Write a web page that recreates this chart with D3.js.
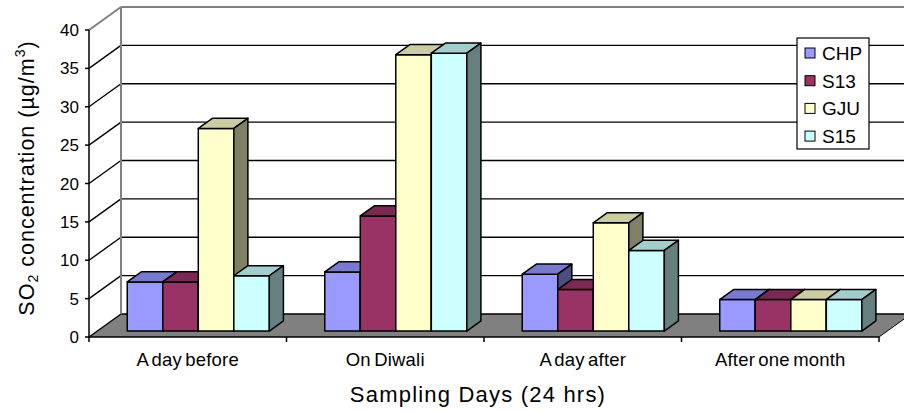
<!DOCTYPE html>
<html>
<head>
<meta charset="utf-8">
<script src="https://cdn.jsdelivr.net/npm/d3@7"></script>
<style>
  html, body { margin: 0; padding: 0; background: #fff; }
  svg { display: block; font-family: "Liberation Sans", Arial, sans-serif; }
</style>
</head>
<body>
<svg id="chart" width="904" height="412"></svg>
<script>
// SO2 concentration per sampling day and station
const categories = ["A day before", "On Diwali", "A day after", "After one month"];
const seriesNames = ["CHP", "S13", "GJU", "S15"];
const CHP = [6.4, 7.7, 7.4, 4.1];
const S13 = [6.4, 15.0, 5.4, 4.1];
const GJU = [26.4, 36.0, 14.1, 4.1];
const S15 = [7.2, 36.2, 10.5, 4.1];
const yTicks = [0, 5, 10, 15, 20, 25, 30, 35, 40];
const seriesColors = ["#9999FF", "#993366", "#FFFFCC", "#CCFFFF"];

const seriesValues = [CHP, S13, GJU, S15];

const svg = d3.select("#chart");

// front plane of the 3D box
const x = d3.scaleBand().domain(categories).range([89, 879]).paddingInner(0).paddingOuter(0);
const y = d3.scaleLinear().domain([0, 40]).range([337, 30]);
const xs = d3.scaleBand().domain(seriesNames).range([0, x.bandwidth()])
  .paddingInner(0).paddingOuter(0.78).align(0.54);

// oblique depth offset of the whole box
const DX = 32, DY = 23;
const barFront = 0.26;   // depth where the bar faces start
const barDepth = 0.44;   // bar thickness as a fraction of the box depth
const xL = x.range()[0], xR = x.range()[1];

const line = (x1, y1, x2, y2, stroke, w) =>
  svg.append("line").attr("x1", x1).attr("y1", y1).attr("x2", x2).attr("y2", y2)
    .attr("stroke", stroke).attr("stroke-width", w);

// floor
svg.append("polygon")
  .attr("points", [[xL, y(0)], [xR, y(0)], [xR + DX, y(0) - DY], [xL + DX, y(0) - DY]].map(p => p.join(",")).join(" "))
  .attr("fill", "#808080");

// walls: gridlines on the side wall (diagonals) and on the back wall
yTicks.forEach(v => {
  const edge = v === 40;
  const col = edge ? "#808080" : "#000";
  const w = edge ? 2 : 1.4;
  line(xL, y(v), xL + DX, y(v) - DY, col, w);
  line(xL + DX, y(v) - DY, 904, y(v) - DY, col, w);
});
// back edge of the side wall
line(xL + DX, y(40) - DY, xL + DX, y(0) - DY, "#808080", 2);
// right edge of the floor
line(xR, y(0), xR + DX, y(0) - DY, "#000", 1);

// axes
line(xL, y(40), xL, y(0), "#000", 1.5);
line(xL, y(0), xR, y(0), "#000", 1.5);
yTicks.forEach(v => {
  line(xL - 4, y(v), xL, y(v), "#000", 1.5);
  svg.append("text").attr("x", 79).attr("y", y(v) + 6)
    .attr("text-anchor", "end").attr("font-size", 17).attr("fill", "#000").text(v);
});
const boundaries = categories.map(c => x(c)).concat([xR]);
boundaries.forEach(b => line(b, y(0), b, y(0) + 5, "#000", 1.5));
categories.forEach(c => {
  svg.append("text").attr("x", x(c) + x.bandwidth() / 2).attr("y", 366)
    .attr("text-anchor", "middle").attr("font-size", 18.5).attr("word-spacing", -2)
    .attr("letter-spacing", 0.2).attr("fill", "#000").text(c);
});

// bars
const shade = (c, k) => { const r = d3.rgb(c); return d3.rgb(r.r * k, r.g * k, r.b * k).formatHex(); };
const pts = arr => arr.map(p => p.join(",")).join(" ");
categories.forEach((c, ci) => {
  seriesNames.forEach((s, si) => {
    const v = seriesValues[si][ci];
    const x0 = x(c) + xs(s) + barFront * DX;
    const x1 = x0 + xs.bandwidth();
    const yT = y(v) - barFront * DY;
    const yB = y(0) - barFront * DY;
    const ddx = barDepth * DX, ddy = barDepth * DY;
    const g = svg.append("g").attr("stroke", "#000").attr("stroke-width", 1.5).attr("stroke-linejoin", "round");
    g.append("polygon").attr("points", pts([[x0, yT], [x1, yT], [x1, yB], [x0, yB]]))
      .attr("fill", seriesColors[si]);
    g.append("polygon").attr("points", pts([[x0, yT], [x1, yT], [x1 + ddx, yT - ddy], [x0 + ddx, yT - ddy]]))
      .attr("fill", shade(seriesColors[si], 0.8));
    g.append("polygon").attr("points", pts([[x1, yT], [x1 + ddx, yT - ddy], [x1 + ddx, yB - ddy], [x1, yB]]))
      .attr("fill", shade(seriesColors[si], 0.5));
  });
});

// axis titles
svg.append("text").attr("x", 478).attr("y", 402).attr("text-anchor", "middle")
  .attr("font-size", 22).attr("letter-spacing", 1.2).attr("fill", "#000")
  .text("Sampling Days (24 hrs)");

const yt = svg.append("text").attr("transform", "translate(34,178) rotate(-90)")
  .attr("text-anchor", "middle").attr("font-size", 21.5).attr("letter-spacing", 1)
  .attr("fill", "#000");
yt.append("tspan").text("SO");
yt.append("tspan").attr("font-size", 14).attr("dy", 4).text("2");
yt.append("tspan").attr("dy", -4).text(" concentration  (µg/m");
yt.append("tspan").attr("font-size", 14).attr("dy", -9).text("3");
yt.append("tspan").attr("dy", 9).text(")");

// legend
const leg = svg.append("g");
leg.append("rect").attr("x", 797).attr("y", 38).attr("width", 72).attr("height", 111)
  .attr("fill", "#fff").attr("stroke", "#000").attr("stroke-width", 1.2);
seriesNames.forEach((s, i) => {
  const cy = 53 + i * 27.7;
  leg.append("rect").attr("x", 805).attr("y", cy - 5).attr("width", 10).attr("height", 10)
    .attr("fill", seriesColors[i]).attr("stroke", "#000").attr("stroke-width", 1);
  leg.append("text").attr("x", 822).attr("y", cy + 7).attr("font-size", 19)
    .attr("fill", "#000").text(s);
});
</script>
</body>
</html>
